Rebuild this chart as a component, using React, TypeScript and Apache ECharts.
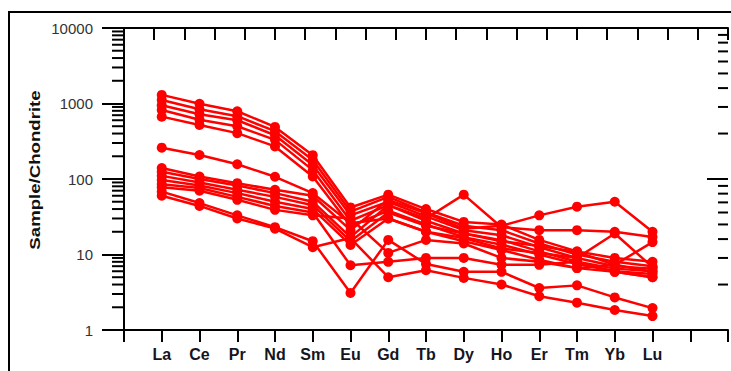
import React, { useEffect, useRef } from "react";
import * as echarts from "echarts";

const categories = ["La", "Ce", "Pr", "Nd", "Sm", "Eu", "Gd", "Tb", "Dy", "Ho", "Er", "Tm", "Yb", "Lu"];

const s1 = [1300, 990, 790, 490, 207, 42, 62, 40, 27, 25, 15.6, 11, 9, 8];
const s2 = [1110, 840, 680, 430, 178, 37, 58, 36, 24, 21, 14, 10, 8, 7];
const s3 = [950, 720, 600, 380, 153, 33, 50, 32, 21, 18, 12.5, 9, 7, 6.5];
const s4 = [820, 610, 500, 330, 131, 28, 45, 28, 19, 15.5, 11, 8, 6.5, 6];
const s5 = [670, 520, 405, 270, 108, 24, 38, 25, 17, 13.5, 10, 7.5, 6, 5.5];
const s6 = [260, 208, 157, 107, 65, 26, 30, 20, 15, 11.5, 8.5, 6.6, 5.9, 5];
const s7 = [140, 108, 88, 72, 60, 21, 53, 35, 22, 24, 33, 43, 50, 20];
const s8 = [125, 100, 82, 65, 50, 17, 45, 30, 62, 23, 21, 21, 20, 17];
const s9 = [110, 90, 72, 58, 45, 15, 36, 24, 19, 15, 13, 10.8, 7.3, 14.6];
const s10 = [97, 82, 65, 50, 40, 13.4, 30, 20, 16.5, 12, 10.5, 9, 19, 6.8];
const s11 = [85, 76, 58, 44, 36, 7.2, 8, 9, 9, 7.3, 7.3, 8, 5.9, 5];
const s12 = [78, 70, 53, 39, 33, 30, 10.5, 15.6, 14, 9, 8, 6.6, 7.3, 5.9];
const s13 = [68, 48, 33, 23, 15, 3.1, 15.6, 7.5, 5.9, 5.9, 3.6, 3.9, 2.7, 1.95];
const s14 = [60, 44, 30, 22, 12.5, 16.5, 5, 6.2, 4.9, 4, 2.8, 2.3, 1.84, 1.53];

const allSeries = [s1, s2, s3, s4, s5, s6, s7, s8, s9, s10, s11, s12, s13, s14];

const leftDecades = [1, 10, 100, 1000];
const rightDecades = [100, 1000];
const rightMajor = [100, 1000, 10000];
const minorMultipliers = [2, 3, 4, 5, 6, 7, 8, 9];

export default function App() {
  const ref = useRef<HTMLDivElement>(null);

  useEffect(() => {
    if (!ref.current) return;
    const chart = echarts.init(ref.current, null, { renderer: "svg" });

    const leftMinor: number[][] = [];
    leftDecades.forEach((d) => minorMultipliers.forEach((m) => leftMinor.push([0, m * d, 12])));
    const rightTicks: number[][] = [];
    rightDecades.forEach((d) => minorMultipliers.forEach((m) => rightTicks.push([16, m * d, 10])));
    rightMajor.forEach((v) => rightTicks.push([16, v, 21]));

    const red = "#ff0000";

    const lineSeries = allSeries.map((vals, idx) => ({
      type: "line",
      name: "S" + (idx + 1),
      xAxisIndex: 0,
      yAxisIndex: 0,
      data: vals.map((v, i) => [i + 1, v]),
      symbol: "circle",
      symbolSize: 10,
      lineStyle: { color: red, width: 2.5 },
      itemStyle: { color: red },
      z: 3,
    }));

    const tickRenderer = (params: any, api: any) => {
      const p = api.coord([api.value(0), api.value(1)]);
      const len = api.value(2);
      return {
        type: "line",
        shape: { x1: p[0] - len, y1: p[1], x2: p[0], y2: p[1] },
        style: { stroke: "#000", lineWidth: 2 },
      };
    };

    const option: any = {
      animation: false,
      backgroundColor: "#ffffff",
      grid: { left: 124, right: 0, top: 28, bottom: 41 },
      xAxis: [
        {
          type: "value",
          position: "bottom",
          min: 0,
          max: 16,
          interval: 1,
          splitLine: { show: false },
          axisLine: { show: true, onZero: false, lineStyle: { color: "#000", width: 2 } },
          axisTick: { show: true, inside: false, length: 12, lineStyle: { color: "#000", width: 2 } },
          axisLabel: {
            show: true,
            margin: 16,
            color: "#151522",
            fontSize: 16,
            fontWeight: "bold",
            fontFamily: "Liberation Sans, Arial, sans-serif",
            formatter: (v: number) => categories[v - 1] ?? "",
          },
        },
        {
          type: "value",
          position: "top",
          min: 0,
          max: 20,
          interval: 1,
          splitLine: { show: false },
          axisLine: { show: true, onZero: false, lineStyle: { color: "#000", width: 2 } },
          axisTick: { show: true, inside: true, length: 12, lineStyle: { color: "#000", width: 2 } },
          axisLabel: { show: false },
        },
      ],
      yAxis: [
        {
          type: "log",
          logBase: 10,
          min: 1,
          max: 10000,
          position: "left",
          splitLine: { show: false },
          axisLine: { show: true, onZero: false, lineStyle: { color: "#000", width: 2 } },
          axisTick: { show: true, inside: false, length: 22, lineStyle: { color: "#000", width: 2 } },
          axisLabel: {
            show: true,
            margin: 31,
            color: "#333333",
            fontSize: 15,
            fontFamily: "Liberation Sans, Arial, sans-serif",
            formatter: (v: number) => String(v),
          },
        },
        {
          type: "log",
          logBase: 10,
          min: 100,
          max: 10000,
          position: "right",
          splitLine: { show: false },
          axisLine: { show: false },
          axisTick: { show: false },
          axisLabel: { show: false },
        },
      ],
      graphic: [
        {
          type: "rect",
          silent: true,
          shape: { x: 9, y: 12, width: 800, height: 500 },
          style: { fill: "none", stroke: "#000", lineWidth: 2 },
        },
        {
          type: "text",
          silent: true,
          x: 35,
          y: 170,
          rotation: Math.PI / 2,
          scaleX: 1.33,
          style: {
            text: "Sample/Chondrite",
            fontSize: 14,
            fontWeight: "bold",
            fontFamily: "Liberation Sans, Arial, sans-serif",
            fill: "#111111",
            align: "center",
            verticalAlign: "middle",
            textAlign: "center",
            textVerticalAlign: "middle",
          },
        },
      ],
      series: [
        {
          type: "custom",
          xAxisIndex: 0,
          yAxisIndex: 0,
          silent: true,
          clip: false,
          data: leftMinor,
          renderItem: tickRenderer,
          z: 1,
        },
        {
          type: "custom",
          xAxisIndex: 0,
          yAxisIndex: 1,
          silent: true,
          clip: false,
          data: rightTicks,
          renderItem: tickRenderer,
          z: 1,
        },
        ...lineSeries,
      ],
    };

    chart.setOption(option);
    return () => chart.dispose();
  }, []);

  return (
    <div
      ref={ref}
      style={{ position: "absolute", left: 0, top: 0, width: 731, height: 371, background: "#fff" }}
    />
  );
}
